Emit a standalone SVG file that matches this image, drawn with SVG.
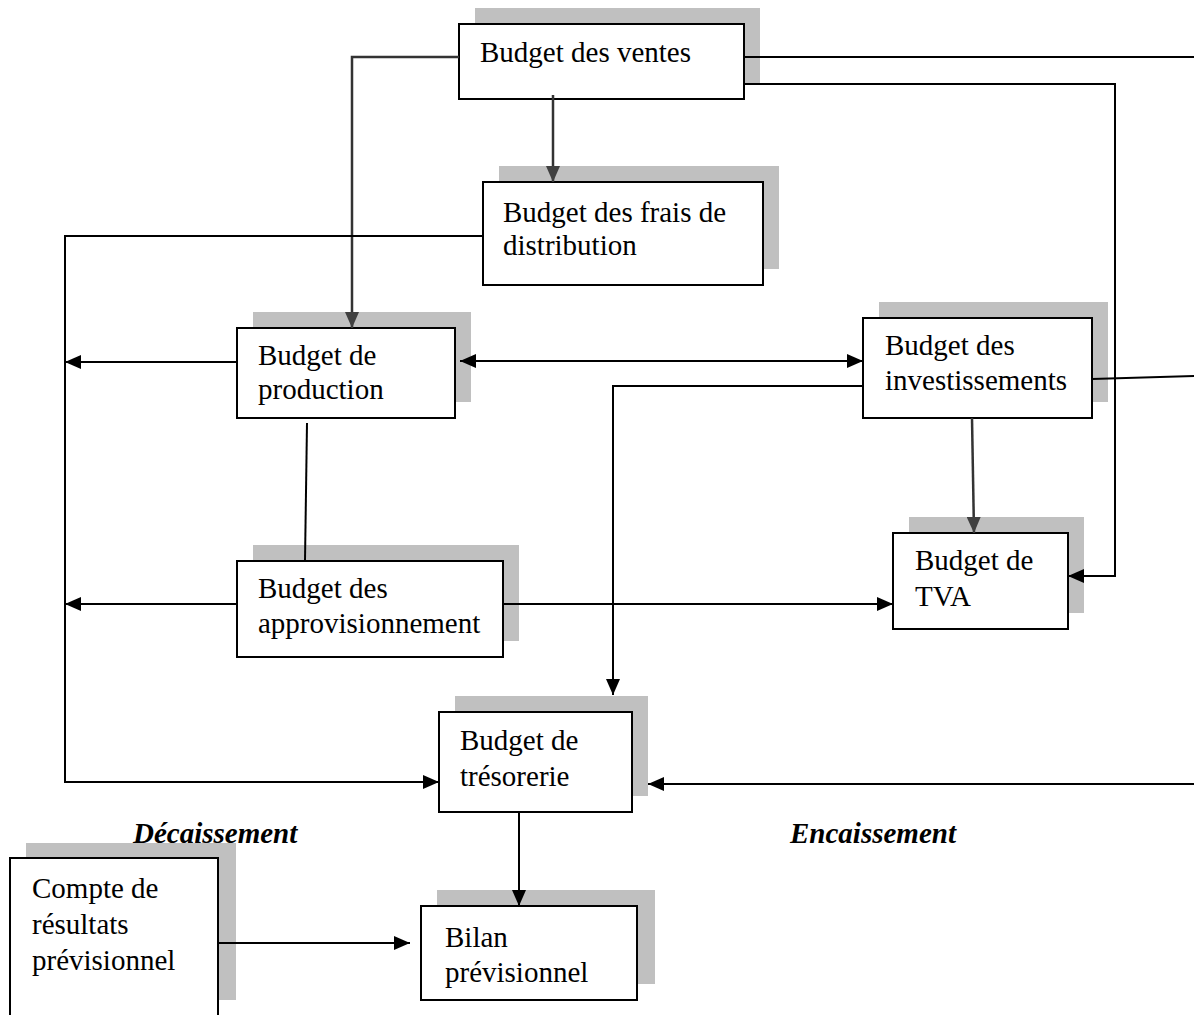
<svg xmlns="http://www.w3.org/2000/svg" width="1194" height="1015" viewBox="0 0 1194 1015">
  <defs>
    <marker id="arr" markerUnits="userSpaceOnUse" markerWidth="16" markerHeight="14" refX="16" refY="7" orient="auto-start-reverse">
      <path d="M0,0 L16,7 L0,14 z" fill="#000"/>
    </marker>
    <marker id="arrg" markerUnits="userSpaceOnUse" markerWidth="16" markerHeight="14" refX="16" refY="7" orient="auto">
      <path d="M0,0 L16,7 L0,14 z" fill="#404040"/>
    </marker>
  </defs>
  <style>
    .shadow { fill: #c0c0c0; stroke: none; }
    .box { fill: #fff; stroke: #000; stroke-width: 2; }
    .lbl { font-family: "Liberation Serif", "Times New Roman", serif; font-size: 29px; fill: #000; }
    .side { font-family: "Liberation Serif", "Times New Roman", serif; font-size: 29px; font-weight: bold; font-style: italic; fill: #000; }
    .ln { fill: none; stroke: #000; stroke-width: 2; }
    .lng { fill: none; stroke: #333; stroke-width: 2.5; }
  </style>
  <rect width="1194" height="1015" fill="#fff"/>

  <g id="ventes">
    <rect class="shadow" x="475" y="8" width="285" height="75"/>
    <rect class="box" x="459" y="24" width="285" height="75"/>
    <text class="lbl" x="480" y="62">Budget des ventes</text>
  </g>

  <g id="distribution">
    <rect class="shadow" x="499" y="166" width="280" height="103"/>
    <rect class="box" x="483" y="182" width="280" height="103"/>
    <text class="lbl" x="503" y="222">Budget des frais de</text>
    <text class="lbl" x="503" y="255">distribution</text>
  </g>

  <g id="production">
    <rect class="shadow" x="253" y="312" width="218" height="90"/>
    <rect class="box" x="237" y="328" width="218" height="90"/>
    <text class="lbl" x="258" y="365">Budget de</text>
    <text class="lbl" x="258" y="399">production</text>
  </g>

  <g id="investissements">
    <rect class="shadow" x="879" y="302" width="229" height="100"/>
    <rect class="box" x="863" y="318" width="229" height="100"/>
    <text class="lbl" x="885" y="355">Budget des</text>
    <text class="lbl" x="885" y="390">investissements</text>
  </g>

  <g id="approvisionnement">
    <rect class="shadow" x="253" y="545" width="266" height="96"/>
    <rect class="box" x="237" y="561" width="266" height="96"/>
    <text class="lbl" x="258" y="598">Budget des</text>
    <text class="lbl" x="258" y="633">approvisionnement</text>
  </g>

  <g id="tva">
    <rect class="shadow" x="909" y="517" width="175" height="96"/>
    <rect class="box" x="893" y="533" width="175" height="96"/>
    <text class="lbl" x="915" y="570">Budget de</text>
    <text class="lbl" x="915" y="606">TVA</text>
  </g>

  <g id="tresorerie">
    <rect class="shadow" x="455" y="696" width="193" height="100"/>
    <rect class="box" x="439" y="712" width="193" height="100"/>
    <text class="lbl" x="460" y="750">Budget de</text>
    <text class="lbl" x="460" y="786">trésorerie</text>
  </g>

  <g id="compte-resultats">
    <rect class="shadow" x="26" y="843" width="210" height="157"/>
    <rect class="box" x="10" y="858" width="208" height="160"/>
    <text class="lbl" x="32" y="898">Compte de</text>
    <text class="lbl" x="32" y="934">résultats</text>
    <text class="lbl" x="32" y="970">prévisionnel</text>
  </g>

  <g id="bilan">
    <rect class="shadow" x="437" y="890" width="218" height="94"/>
    <rect class="box" x="421" y="906" width="216" height="94"/>
    <text class="lbl" x="445" y="947">Bilan</text>
    <text class="lbl" x="445" y="982">prévisionnel</text>
  </g>

  <!-- connectors, drawn over the box shadows -->
  <g id="connectors">
    <!-- from Budget des ventes -->
    <path class="ln" d="M744,57 H1194"/>
    <path class="ln" d="M744,84 H1115 V576 H1068" marker-end="url(#arr)"/>
    <path class="lng" d="M553,95 V182" marker-end="url(#arrg)"/>
    <path class="lng" d="M459,57 H352 V328" marker-end="url(#arrg)"/>
    <!-- disbursement collector on the left -->
    <path class="ln" d="M483,236 H65 V782 H439" marker-end="url(#arr)"/>
    <path class="ln" d="M237,362 H65" marker-end="url(#arr)"/>
    <path class="ln" d="M237,604 H65" marker-end="url(#arr)"/>
    <!-- production / investissements -->
    <path class="ln" d="M460,361 H863" marker-start="url(#arr)" marker-end="url(#arr)"/>
    <path class="ln" d="M307,423 L305,561"/>
    <path class="ln" d="M863,386 H613 V695" marker-end="url(#arr)"/>
    <path class="ln" d="M1092,379 L1194,376"/>
    <path class="lng" d="M972,418 L974,533" marker-end="url(#arrg)"/>
    <!-- approvisionnement to TVA -->
    <path class="ln" d="M503,604 H893" marker-end="url(#arr)"/>
    <!-- receipts into trésorerie -->
    <path class="ln" d="M1194,784 H648" marker-end="url(#arr)"/>
    <!-- towards the balance sheet -->
    <path class="ln" d="M519,812 V906" marker-end="url(#arr)"/>
    <path class="ln" d="M218,943 H410" marker-end="url(#arr)"/>
  </g>

  <g id="decaissement">
    <text class="side" x="133" y="843">Décaissement</text>
  </g>
  <g id="encaissement">
    <text class="side" x="790" y="843">Encaissement</text>
  </g>
</svg>
